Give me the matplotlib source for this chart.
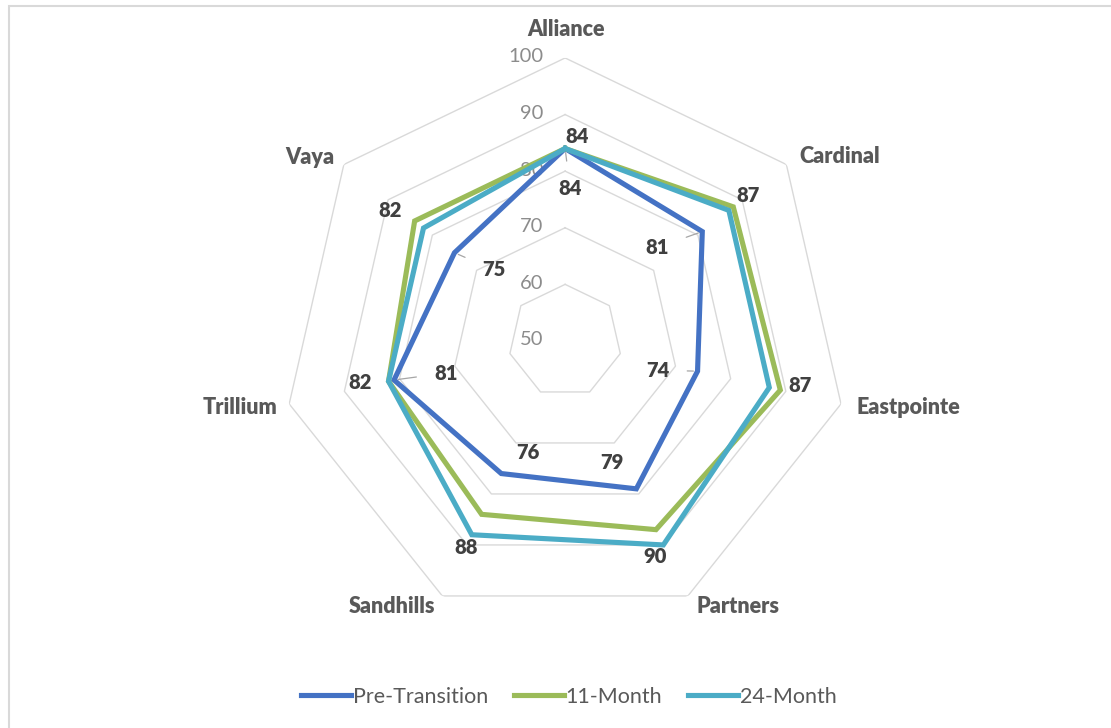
import matplotlib
matplotlib.use("Agg")
import matplotlib.pyplot as plt
import numpy as np
from matplotlib.patches import Rectangle

plt.rcParams['font.family'] = ['Lato', 'DejaVu Sans']

categories = ['Alliance', 'Cardinal', 'Eastpointe', 'Partners', 'Sandhills', 'Trillium', 'Vaya']
pre_transition = [84, 81, 74, 79, 76, 81, 75]
month_11 = [84, 88, 89, 87, 84, 82, 84]
month_24 = [84, 87, 87, 90, 88, 82, 82]
ring_values = [50, 60, 70, 80, 90, 100]

colors = {'pre': '#4472C4', 'm11': '#9BBB59', 'm24': '#4BACC6'}

# label offsets in pixels (dx, dy up)
cat_offsets = [(1, 28), (53, 8), (67, -4), (50, -11), (-50, -11), (-49, -4), (-34, 7)]
m24_offsets = [(12, 12), (19, 15), (31, 2), (-8, -12), (-6, -13), (-28, -1), (-33, 18)]
pre_offsets = [(5, -40), (-45, -16), (-40, 1), (-24, 26), (27, 21), (52, 7), (39, -17)]
pre_leader = [True, True, True, False, False, True, True]

n = len(categories)
theta = np.linspace(0, 2 * np.pi, n, endpoint=False)
theta_c = np.append(theta, theta[0])

fig = plt.figure(figsize=(11.11, 7.28), dpi=100)
fig.patches.append(Rectangle((9 / 1111, -0.1), 1.2, 1 - 6 / 728 + 0.1, transform=fig.transFigure,
                             fill=False, edgecolor='#d9d9d9', linewidth=1.5))

ax = fig.add_axes([0.2539, 0.1429, 0.5095, 0.7775], projection='polar')
ax.set_theta_offset(np.pi / 2)
ax.set_theta_direction(-1)
ax.set_ylim(50, 100)
ax.grid(False)
ax.set_xticks([])
ax.set_yticks([])
ax.spines['polar'].set_visible(False)
ax.patch.set_alpha(0)

for rv in ring_values[1:]:
    ax.plot(theta_c, [rv] * (n + 1), color='#d9d9d9', lw=1.0, zorder=1)
for rv in ring_values:
    ax.annotate(str(rv), xy=(0, rv), xytext=(-22, 1), textcoords='offset pixels',
                ha='right', va='center', fontsize=14.5, color='#8c8c8c', zorder=2)

series = [('Pre-Transition', pre_transition, colors['pre']),
          ('11-Month', month_11, colors['m11']),
          ('24-Month', month_24, colors['m24'])]
for name, vals, c in series:
    ax.plot(theta_c, vals + vals[:1], color=c, lw=3.7, label=name, zorder=3,
            solid_joinstyle='miter')

for i, cat in enumerate(categories):
    ax.annotate(cat, xy=(theta[i], 100), xytext=cat_offsets[i], textcoords='offset pixels',
                ha='center', va='center', fontsize=15.5, fontweight='heavy', color='#595959',
                annotation_clip=False)
    ax.annotate(str(month_24[i]), xy=(theta[i], month_24[i]), xytext=m24_offsets[i],
                textcoords='offset pixels', ha='center', va='center', fontsize=14.5,
                fontweight='heavy', color='#404040', zorder=5)
    arrow = dict(arrowstyle='-', color='#a6a6a6', lw=0.9, shrinkA=11, shrinkB=3) if pre_leader[i] else None
    ax.annotate(str(pre_transition[i]), xy=(theta[i], pre_transition[i]), xytext=pre_offsets[i],
                textcoords='offset pixels', ha='center', va='center', fontsize=14.5,
                fontweight='heavy', color='#404040', zorder=5, arrowprops=arrow)

fig.legend(loc='center', bbox_to_anchor=(569 / 1111, 1 - 697 / 728), ncol=3, frameon=False,
           fontsize=15.5, handlelength=2.3, handletextpad=0.1, columnspacing=1.2,
           labelcolor='#595959')

fig.savefig('out.png', dpi=100)
